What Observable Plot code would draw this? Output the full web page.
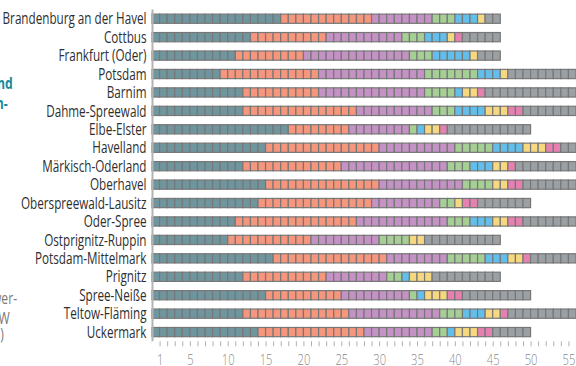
<!DOCTYPE html>
<html>
<head>
<meta charset="utf-8">
<script src="https://cdn.jsdelivr.net/npm/d3@7"></script>
<script src="https://cdn.jsdelivr.net/npm/@observablehq/plot@0.6"></script>
<style>
  html, body { margin: 0; padding: 0; background: #fff; width: 576px; height: 366px; overflow: hidden; }
  body { position: relative; font-family: "Open Sans", "Noto Sans", sans-serif; }
  #chart { position: absolute; left: 0; top: 0; }
  .frag { position: absolute; font-size: 16px; line-height: 14px; white-space: nowrap; transform: scaleX(0.76); transform-origin: right center; }
  .teal { color: #15889a; font-weight: bold; }
  .grey { color: #7a7a7a; }
  svg [aria-label^="y-axis"] text { font-size: 16px; fill: #2e2e2e; }
  svg [aria-label^="x-axis"] text { font-size: 14px; fill: #8a8a8a; font-weight: 300; }
  svg [aria-label^="x-axis"] { color: #b0b0b0; }
</style>
</head>
<body>
<div id="chart"></div>
<div class="frag teal" style="top:76px; right:563px">nd</div>
<div class="frag teal" style="top:96px; right:568px">n-</div>
<div class="frag grey" style="top:291px; right:559px">wer-</div>
<div class="frag grey" style="top:311px; right:566px">W</div>
<div class="frag grey" style="top:327px; right:572px">)</div>
<script>
const districts = ["Brandenburg an der Havel","Cottbus","Frankfurt (Oder)","Potsdam","Barnim","Dahme-Spreewald","Elbe-Elster","Havelland","Märkisch-Oderland","Oberhavel","Oberspreewald-Lausitz","Oder-Spree","Ostprignitz-Ruppin","Potsdam-Mittelmark","Prignitz","Spree-Neiße","Teltow-Fläming","Uckermark"];

const categories = ["Gruppe 1","Gruppe 2","Gruppe 3","Gruppe 4","Gruppe 5","Gruppe 6","Gruppe 7","Übrige"];
const colors = ["#6f969e","#f5967d","#c492c4","#a5cf94","#62beeb","#f6d880","#e580b0","#9ba0a4"];

// seats per district for each category (same order as districts)
const group1 = [17,13,11, 9,12,12,18,15,12,15,14,11,10,16,12,15,12,14];
const group2 = [12,10, 9,13,10,15, 8,15,13,15,15,16,11,15,11,10,14,14];
const group3 = [ 8,10,14,14,14,10, 8,10,14,11, 9,12, 9, 8, 8, 9,12, 9];
const group4 = [ 3, 3, 3, 7, 4, 3, 1, 5, 3, 4, 2, 3, 4, 5, 2, 1, 3, 2];
const group5 = [ 3, 3, 5, 3, 1, 4, 1, 4, 3, 0, 0, 3, 0, 3, 1, 1, 3, 1];
const group6 = [ 1, 1, 1, 1, 2, 3, 2, 3, 2, 2, 1, 2, 2, 2, 3, 3, 2, 3];
const group7 = [ 0, 1, 0, 0, 1, 2, 1, 2, 1, 2, 2, 2, 0, 1, 0, 2, 1, 2];
const rest   = [ 2, 5, 3, 9,12, 7,11, 2, 8, 7, 7, 7,10, 6, 9, 9, 9, 5];

const series = [group1, group2, group3, group4, group5, group6, group7, rest];
const tickValues = d3.range(1, 57);
const tickLabels = [1, 5, 10, 15, 20, 25, 30, 35, 40, 45, 50, 55];

// one record per seat
const seats = [];
districts.forEach((district, i) => {
  let seat = 0;
  series.forEach((arr, c) => {
    for (let k = 0; k < arr[i]; k++) {
      seat += 1;
      seats.push({district, category: categories[c], seat});
    }
  });
});

const chart = Plot.plot({
  width: 576,
  height: 366,
  marginLeft: 152,
  marginRight: 0,
  marginTop: 9.5,
  marginBottom: 24.7,
  style: {fontFamily: "inherit", fontSize: "14px", background: "transparent"},
  x: {domain: [0, 56], ticks: tickValues, tickFormat: d => tickLabels.includes(d) ? String(d) : "", tickSize: 5, tickPadding: 8, label: null},
  y: {domain: districts, paddingInner: 0.5, paddingOuter: 0.25, round: false, tickSize: 0, tickPadding: 6, label: null},
  color: {domain: categories, range: colors},
  marks: [
    Plot.rect(seats, {x1: d => d.seat - 1, x2: "seat", y: "district", fill: "category", stroke: "#777", strokeWidth: 1.2}),
    Plot.ruleX([0], {stroke: "#b3b3b3", strokeWidth: 2})
  ]
});
document.getElementById("chart").appendChild(chart);

// condensed look: compress label glyphs horizontally
function condense(selector, factor) {
  chart.querySelectorAll(selector).forEach(t => {
    const w = t.getComputedTextLength();
    if (w > 0) {
      t.setAttribute("textLength", w * factor);
      t.setAttribute("lengthAdjust", "spacingAndGlyphs");
    }
  });
}
condense('[aria-label^="y-axis"] text', 0.73);
condense('[aria-label^="x-axis"] text', 0.8);
</script>
</body>
</html>
